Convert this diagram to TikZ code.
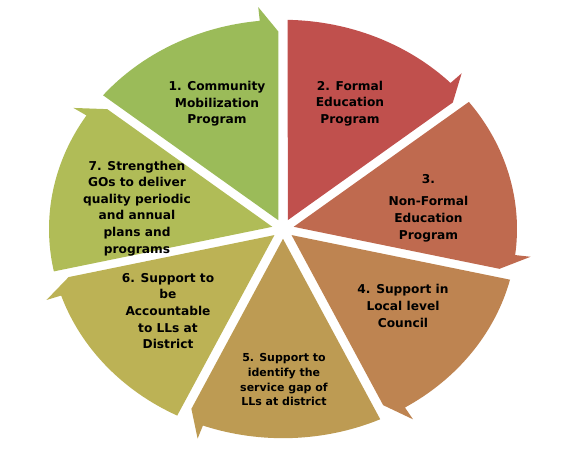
\documentclass[tikz,border=0pt]{standalone}
\usepackage{fontspec}
\setmainfont{DejaVu Sans}
\definecolor{c1}{RGB}{155,187,89}
\definecolor{c2}{RGB}{192,80,77}
\definecolor{c3}{RGB}{191,106,79}
\definecolor{c4}{RGB}{190,132,81}
\definecolor{c5}{RGB}{189,155,83}
\definecolor{c6}{RGB}{188,178,85}
\definecolor{c7}{RGB}{176,188,87}
% #1 colour, #2 start angle (ccw side), #3 end angle (clockwise side, arrow end)
\newcommand{\cycseg}[3]{%
  \fill[#1] ({(#2+#3)/2}:10.95) -- ({#2-1.163}:234)
    arc[start angle={#2-1.163}, end angle={#3+5.7}, radius=234]
    -- ({#3+5.7}:249.5) -- ({#3+1.231}:221.05) -- cycle;}
\begin{document}
\begin{tikzpicture}[x=1pt,y=1pt,
  lbl/.style={font=\fontsize{12.2}{16.6}\selectfont\bfseries, align=center, inner sep=0pt},
  lbls/.style={font=\fontsize{11}{14.7}\selectfont\bfseries, align=center, inner sep=0pt}]
\useasboundingbox (0,0) rectangle (574,460);
\begin{scope}[shift={(283,231)}, yscale=0.894]
  \cycseg{c1}{141.429}{90}
  \cycseg{c2}{90}{38.571}
  \cycseg{c3}{38.571}{-12.857}
  \cycseg{c4}{-12.857}{-64.286}
  \cycseg{c5}{-64.286}{-115.714}
  \cycseg{c6}{-115.714}{-167.143}
  \cycseg{c7}{192.857}{141.429}
\end{scope}
\node[lbl] (t1) at (217,356.2) {1. Community\\Mobilization\\Program};
\node[lbl] (t2) at (350,356.5) {2. Formal\\Education\\Program};
\node[lbl] (t3) at (428.5,252) {3.\\[6pt]Non-Formal\\Education\\Program};
\node[lbl] (t4) at (403,154) {4. Support in\\Local level\\Council};
\node[lbls] (t5) at (284,80.3) {5. Support to\\identify the\\service gap of\\LLs at district};
\node[lbl] (t6) at (168,149) {6. Support to\\be\\Accountable\\to LLs at\\District};
\node[lbl] (t7) at (137,251.7) {7. Strengthen\\GOs to deliver\\quality periodic\\and annual\\plans and\\programs};
\end{tikzpicture}
\end{document}
